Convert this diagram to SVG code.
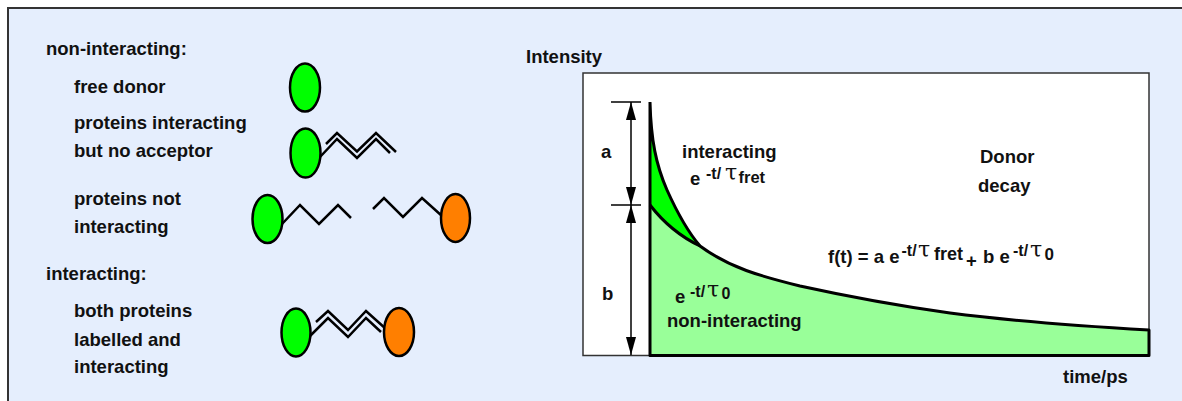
<svg xmlns="http://www.w3.org/2000/svg" width="1182" height="401" viewBox="0 0 1182 401">
<defs>
<style>
.t{font-family:"Liberation Sans",Arial,sans-serif;font-weight:bold;font-size:18.5px;fill:#111}
.sup{font-size:16px}
.tau{font-family:"DejaVu Serif","Liberation Serif",serif;font-weight:normal;font-size:22px;fill:#111}
.don{fill:#00FF00;stroke:#000;stroke-width:2.5}
.acc{fill:#FF7F00;stroke:#000;stroke-width:2.5}
.chain{fill:none;stroke:#000;stroke-width:2.5}
.dim{fill:none;stroke:#000;stroke-width:1.5}
.crv{fill:none;stroke:#000;stroke-width:3;stroke-linejoin:round}
</style>
<marker id="ah" viewBox="0 0 18 10" refX="18" refY="5" markerWidth="18" markerHeight="10" markerUnits="userSpaceOnUse" orient="auto-start-reverse">
<path d="M0,0 L18,5 L0,10 Z" fill="#000"/>
</marker>
</defs>
<rect x="0" y="0" width="1182" height="401" fill="#fff"/>
<rect id="frame" x="8" y="8" width="1190" height="410" fill="#E5EEFD" stroke="#333" stroke-width="2"/>

<g id="legend-titles">
<text class="t" x="46" y="55">non-interacting:</text>
<text class="t" x="46" y="280">interacting:</text>
</g>

<g id="free-donor">
<text class="t" x="74" y="93">free donor</text>
<ellipse class="don" cx="305" cy="87.5" rx="15" ry="24"/>
</g>

<g id="no-acceptor">
<text class="t" x="74" y="129">proteins interacting</text>
<text class="t" x="74" y="157">but no acceptor</text>
<polyline class="chain" points="320,157 337,139 357,158 376,139 390,153"/>
<polyline class="chain" points="326,144 337,133 357,151.5 376,133 396,152"/>
<ellipse class="don" cx="305.5" cy="153" rx="15" ry="24.5"/>
</g>

<g id="not-interacting">
<text class="t" x="74" y="205">proteins not</text>
<text class="t" x="74" y="233">interacting</text>
<polyline class="chain" points="282,224 300,205 319,224 338,205 351,218"/>
<polyline class="chain" points="373,209 384,198 403,217 422,198 442,216"/>
<ellipse class="don" cx="267.5" cy="219" rx="15" ry="24"/>
<ellipse class="acc" cx="455.5" cy="218" rx="14.5" ry="24"/>
</g>

<g id="interacting-pair">
<text class="t" x="74" y="317">both proteins</text>
<text class="t" x="74" y="346">labelled and</text>
<text class="t" x="74" y="373">interacting</text>
<polyline class="chain" points="310,336 328,318 348,337 366,318 381,332"/>
<polyline class="chain" points="316,322 328,311 348,330 366,311 386,329"/>
<ellipse class="don" cx="296" cy="332.5" rx="14.5" ry="24"/>
<ellipse class="acc" cx="399" cy="332" rx="15" ry="24"/>
</g>

<g id="plot">
<text class="t" x="526" y="63">Intensity</text>
<rect x="583" y="73" width="566" height="282.5" fill="#fff" stroke="#333" stroke-width="1.5"/>
<path d="M650,205 C660,218 675,234 700,246 C730,268 760,276 800,286 C850,297 900,306 950,313 C1020,322 1080,326 1149,330 L1149,355 L650,355 Z" fill="#99FF99"/>
<path d="M650,102 C651,140 656,165 667,190 C676,210 688,232 700,246 C675,234 660,218 650,205 Z" fill="#00FF00"/>
<path class="crv" d="M650,102 C651,140 656,165 667,190 C676,210 688,232 700,246 C730,268 760,276 800,286 C850,297 900,306 950,313 C1020,322 1080,326 1149,330 L1149,355.5 L650,355.5 L650,102"/>
<path class="crv" d="M650,205 C660,218 675,234 700,246"/>
<text class="t" x="980" y="163">Donor</text>
<text class="t" x="978" y="192">decay</text>
<text class="t" x="1063" y="383">time/ps</text>
</g>

<g id="label-interacting">
<text class="t" x="682" y="158">interacting</text>
<text class="t" x="690" y="185">e</text>
<text class="t sup" x="706" y="179">-t/</text>
<text class="tau" x="725" y="180">τ</text>
<text class="t" x="738.5" y="182.5" style="font-size:16.5px">fret</text>
</g>

<g id="label-noninteracting">
<text class="t" x="675" y="303">e</text>
<text class="t sup" x="690" y="297">-t/</text>
<text class="tau" x="707" y="297">τ</text>
<text class="t" x="721.5" y="299" style="font-size:16px">0</text>
<text class="t" x="667" y="327">non-interacting</text>
</g>

<g id="formula">
<text class="t" x="828" y="263">f(t) = a e</text>
<text class="t sup" x="901.5" y="256">-t/</text>
<text class="tau" x="918" y="257">τ</text>
<text class="t" x="934" y="260" style="font-size:18px">fret</text>
<text class="t" x="966" y="267">+</text>
<text class="t" x="983" y="263">b e</text>
<text class="t sup" x="1013" y="256">-t/</text>
<text class="tau" x="1030" y="257">τ</text>
<text class="t" x="1044.5" y="259.5" style="font-size:17px">0</text>
</g>

<g id="connectors">
<line class="dim" x1="611" y1="102" x2="641" y2="102"/>
<line class="dim" x1="611" y1="205" x2="641" y2="205"/>
<line class="dim" x1="631" y1="102" x2="631" y2="205" marker-start="url(#ah)" marker-end="url(#ah)"/>
<line class="dim" x1="631" y1="205" x2="631" y2="355" marker-start="url(#ah)" marker-end="url(#ah)"/>
</g>
<g id="dim-labels">
<text class="t" x="601" y="158">a</text>
<text class="t" x="602" y="300">b</text>
</g>
</svg>
